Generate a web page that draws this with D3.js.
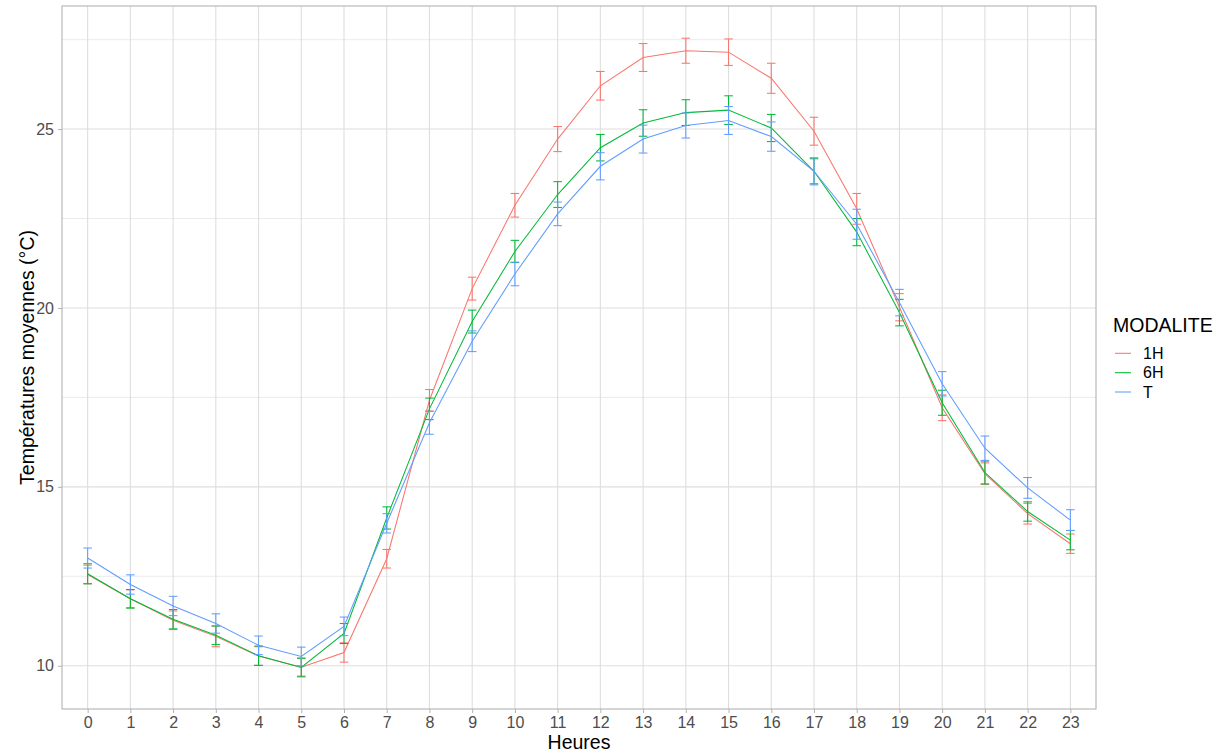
<!DOCTYPE html>
<html><head><meta charset="utf-8">
<script src="https://cdn.jsdelivr.net/npm/d3@7"></script>
<style>body{margin:0;background:#fff;} svg{display:block;font-family:"Liberation Sans",Arial,sans-serif;}</style>
</head><body><svg id="c" width="1213" height="753"></svg>
<script>
const hours = d3.range(0, 24);
const modalites = ["1H", "6H", "T"];
const colors = ["#F8766D", "#00BA38", "#619CFF"];
const mean1H = [12.55,11.87,11.27,10.82,10.27,9.96,10.37,12.99,17.42,20.54,22.87,24.72,26.21,27.00,27.19,27.15,26.42,24.94,22.77,20.02,17.21,15.37,14.25,13.41];
const err1H  = [0.26,0.25,0.26,0.29,0.26,0.25,0.27,0.26,0.30,0.32,0.33,0.35,0.40,0.39,0.35,0.37,0.42,0.39,0.43,0.38,0.36,0.30,0.29,0.27];
const mean6H = [12.57,11.87,11.30,10.85,10.28,9.95,10.90,14.13,17.18,19.62,21.58,23.17,24.48,25.17,25.46,25.53,25.03,23.82,22.12,19.87,17.35,15.40,14.31,13.51];
const err6H  = [0.28,0.26,0.27,0.26,0.27,0.26,0.28,0.31,0.30,0.32,0.31,0.36,0.37,0.37,0.36,0.40,0.38,0.35,0.38,0.37,0.35,0.32,0.27,0.27];
const meanT  = [13.01,12.27,11.67,11.18,10.57,10.26,11.10,13.98,16.79,19.07,20.95,22.63,23.96,24.72,25.10,25.24,24.79,23.82,22.34,20.15,17.88,16.08,14.97,14.07];
const errT   = [0.28,0.27,0.27,0.27,0.26,0.26,0.26,0.27,0.32,0.29,0.33,0.33,0.38,0.39,0.35,0.39,0.41,0.38,0.42,0.37,0.34,0.34,0.29,0.29];
const yTicks = [10, 15, 20, 25];
const yMinor = [12.5, 17.5, 22.5, 27.5];

const series = [
  {name: modalites[0], color: colors[0], mean: mean1H, err: err1H},
  {name: modalites[1], color: colors[1], mean: mean6H, err: err6H},
  {name: modalites[2], color: colors[2], mean: meanT, err: errT}
];

const svg = d3.select("#c");
const L = 62, R = 1096, T = 6, B = 709;
const x = d3.scalePoint().domain(hours).range([L, R]).padding(0.6);
const y = d3.scaleLinear().domain([8.79, 28.44]).range([B, T]);

const grid = svg.append("g");
grid.selectAll(".mn").data(yMinor).join("line")
  .attr("x1", L).attr("x2", R).attr("y1", d => y(d)).attr("y2", d => y(d))
  .attr("stroke", "#e6e6e6").attr("stroke-width", 0.8);
grid.selectAll(".mj").data(yTicks).join("line")
  .attr("x1", L).attr("x2", R).attr("y1", d => y(d)).attr("y2", d => y(d))
  .attr("stroke", "#dedede").attr("stroke-width", 1.1);
grid.selectAll(".vx").data(hours).join("line")
  .attr("x1", d => x(d)).attr("x2", d => x(d)).attr("y1", T).attr("y2", B)
  .attr("stroke", "#dedede").attr("stroke-width", 1.1);

// axes
const xAxis = svg.append("g").attr("transform", `translate(0,${B})`)
  .call(d3.axisBottom(x).tickSize(4).tickPadding(4));
const yAxis = svg.append("g").attr("transform", `translate(${L},0)`)
  .call(d3.axisLeft(y).tickValues(yTicks).tickSize(4).tickPadding(4));
[xAxis, yAxis].forEach(a => {
  a.select(".domain").remove();
  a.selectAll(".tick line").attr("stroke", "#b3b3b3");
  a.selectAll(".tick text").attr("fill", "#4d4d4d").style("font-size", "16px")
    .style("font-family", "'Liberation Sans', Arial, sans-serif");
});

// data layers
const plot = svg.append("g");
series.forEach(s => {
  const pts = hours.map((h, i) => ({h, m: s.mean[i], e: s.err[i]}));
  const g = plot.append("g");
  g.append("path").datum(pts)
    .attr("d", d3.line().x(d => x(d.h)).y(d => y(d.m)))
    .attr("fill", "none").attr("stroke", s.color).attr("stroke-width", 1.05);
  const w = x.step() * 0.1;
  const eb = g.selectAll(".eb").data(pts).join("g");
  eb.append("line").attr("x1", d => x(d.h)).attr("x2", d => x(d.h))
    .attr("y1", d => y(d.m - d.e)).attr("y2", d => y(d.m + d.e));
  eb.append("line").attr("x1", d => x(d.h) - w).attr("x2", d => x(d.h) + w)
    .attr("y1", d => y(d.m - d.e)).attr("y2", d => y(d.m - d.e));
  eb.append("line").attr("x1", d => x(d.h) - w).attr("x2", d => x(d.h) + w)
    .attr("y1", d => y(d.m + d.e)).attr("y2", d => y(d.m + d.e));
  eb.selectAll("line").attr("stroke", s.color).attr("stroke-width", 1.05);
});

// panel border
svg.append("rect").attr("x", L).attr("y", T).attr("width", R - L).attr("height", B - T)
  .attr("fill", "none").attr("stroke", "#b3b3b3").attr("stroke-width", 1.1);

// axis titles
svg.append("text").attr("x", (L + R) / 2).attr("y", 749).attr("text-anchor", "middle")
  .style("font-size", "19.5px").attr("fill", "#000").text("Heures");
svg.append("text").attr("transform", `translate(34,${(T + B) / 2}) rotate(-90)`)
  .attr("text-anchor", "middle").style("font-size", "19.5px").attr("fill", "#000")
  .text("Températures moyennes (°C)");

// legend
const lg = svg.append("g");
lg.append("text").attr("x", 1113).attr("y", 332).style("font-size", "19.5px").attr("fill", "#000").text("MODALITE");
const ky = [353.3, 372.7, 392];
series.forEach((s, i) => {
  lg.append("line").attr("x1", 1115).attr("x2", 1131).attr("y1", ky[i]).attr("y2", ky[i])
    .attr("stroke", s.color).attr("stroke-width", 1.05);
  lg.append("text").attr("x", 1143).attr("y", ky[i]).attr("dy", "0.36em")
    .style("font-size", "16px").attr("fill", "#000").text(s.name);
});
</script></body></html>
